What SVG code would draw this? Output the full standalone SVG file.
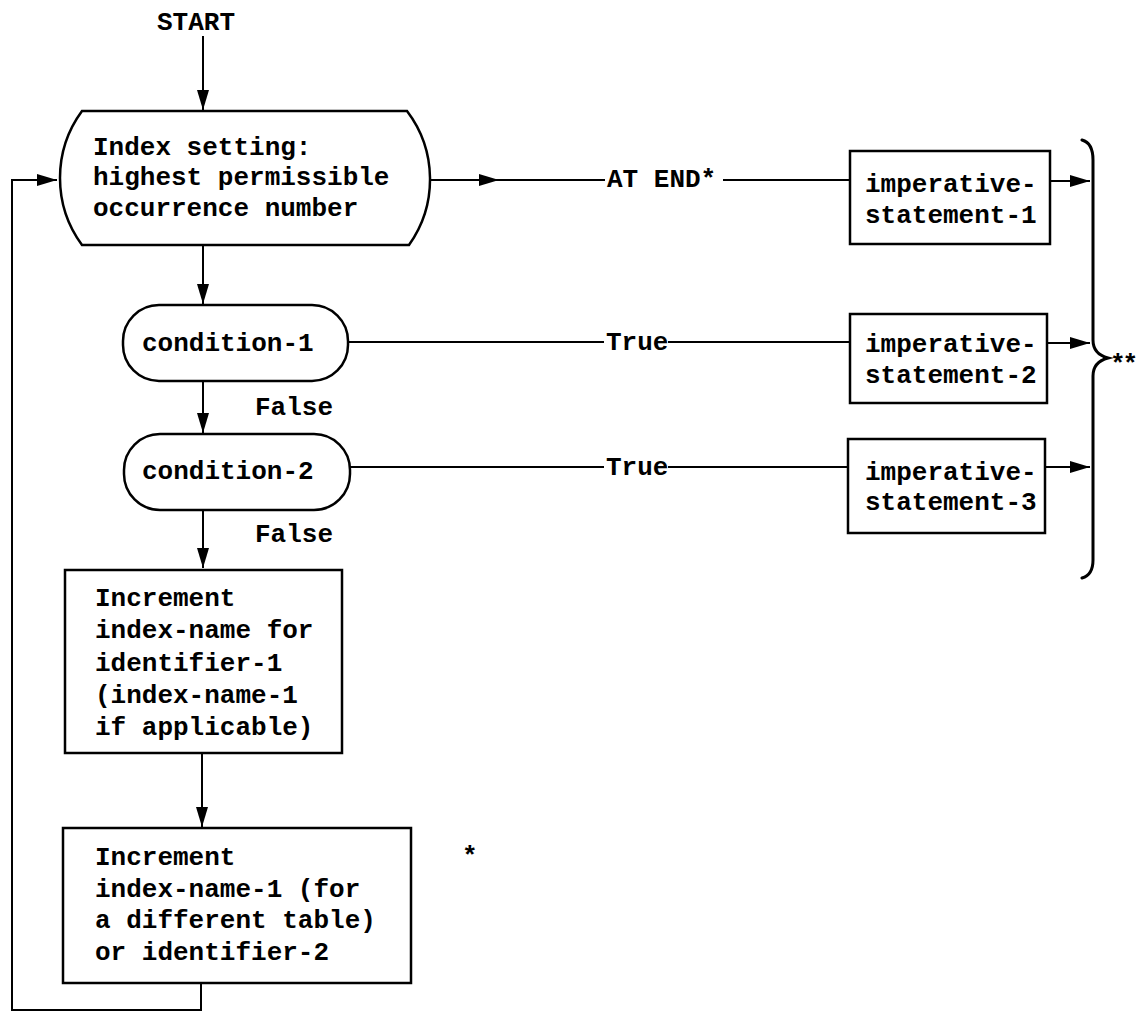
<svg xmlns="http://www.w3.org/2000/svg" width="1147" height="1013" viewBox="0 0 1147 1013">
<style>
  .t { font-family: "Liberation Mono", "Courier New", monospace; font-size: 26px; font-weight: bold; fill: #000; }
  .shape { fill: #fff; stroke: #000; stroke-width: 2.5; }
  .ln { fill: none; stroke: #000; stroke-width: 2; }
  .brace { fill: none; stroke: #000; stroke-width: 3; stroke-linecap: round; }
</style>
<defs>
  <marker id="arr" markerUnits="userSpaceOnUse" markerWidth="22" markerHeight="14" refX="20" refY="6" orient="auto">
    <path d="M0,0 L20,6 L0,12 Z" fill="#000"/>
  </marker>
</defs>
<rect width="1147" height="1013" fill="#fff"/>

<g id="connectors">
  <line class="ln" x1="203" y1="36" x2="203" y2="110" marker-end="url(#arr)"/>
  <line class="ln" x1="430" y1="180" x2="499" y2="180" marker-end="url(#arr)"/>
  <line class="ln" x1="495" y1="180" x2="605" y2="180"/>
  <line class="ln" x1="723" y1="180" x2="850" y2="180"/>
  <line class="ln" x1="1050" y1="181" x2="1090" y2="181" marker-end="url(#arr)"/>
  <line class="ln" x1="203" y1="245" x2="203" y2="304" marker-end="url(#arr)"/>
  <line class="ln" x1="348" y1="342" x2="604" y2="342"/>
  <line class="ln" x1="668" y1="342" x2="850" y2="342"/>
  <line class="ln" x1="1047" y1="343" x2="1090" y2="343" marker-end="url(#arr)"/>
  <line class="ln" x1="203" y1="381" x2="203" y2="433" marker-end="url(#arr)"/>
  <line class="ln" x1="350" y1="467" x2="604" y2="467"/>
  <line class="ln" x1="668" y1="467" x2="848" y2="467"/>
  <line class="ln" x1="1045" y1="467" x2="1090" y2="467" marker-end="url(#arr)"/>
  <line class="ln" x1="203" y1="510" x2="203" y2="568" marker-end="url(#arr)"/>
  <line class="ln" x1="202" y1="753" x2="202" y2="827" marker-end="url(#arr)"/>
  <path class="ln" d="M201,983 L201,1010 L12,1010 L12,180 L57,180" marker-end="url(#arr)"/>
  <text class="t" x="607" y="187">AT END*</text>
  <text class="t" x="606" y="350">True</text>
  <text class="t" x="606" y="475">True</text>
  <text class="t" x="255" y="415">False</text>
  <text class="t" x="255" y="542">False</text>
</g>

<g id="start">
  <text class="t" x="157" y="30">START</text>
</g>

<g id="index-setting">
  <path class="shape" d="M82,111 L407,111 A113,113 0 0 1 409,245 L82,245 A113,113 0 0 1 82,111 Z"/>
  <text class="t" x="93" y="155">Index setting:</text>
  <text class="t" x="93" y="185">highest permissible</text>
  <text class="t" x="93" y="216">occurrence number</text>
</g>

<g id="condition-1">
  <rect class="shape" x="123" y="305" width="225" height="76" rx="36" ry="36"/>
  <text class="t" x="142" y="351">condition-1</text>
</g>

<g id="condition-2">
  <rect class="shape" x="124" y="434" width="226" height="76" rx="36" ry="36"/>
  <text class="t" x="142" y="479">condition-2</text>
</g>

<g id="imperative-1">
  <rect class="shape" x="850" y="151" width="200" height="93"/>
  <text class="t" x="865" y="192">imperative-</text>
  <text class="t" x="865" y="223">statement-1</text>
</g>

<g id="imperative-2">
  <rect class="shape" x="850" y="314" width="197" height="89"/>
  <text class="t" x="865" y="352">imperative-</text>
  <text class="t" x="865" y="383">statement-2</text>
</g>

<g id="imperative-3">
  <rect class="shape" x="848" y="439" width="197" height="94"/>
  <text class="t" x="865" y="480">imperative-</text>
  <text class="t" x="865" y="510">statement-3</text>
</g>

<g id="increment-1">
  <rect class="shape" x="65" y="570" width="277" height="183"/>
  <text class="t" x="95" y="606">Increment</text>
  <text class="t" x="95" y="638">index-name for</text>
  <text class="t" x="95" y="671">identifier-1</text>
  <text class="t" x="95" y="703">(index-name-1</text>
  <text class="t" x="95" y="735">if applicable)</text>
</g>

<g id="increment-2">
  <rect class="shape" x="63" y="828" width="348" height="155"/>
  <text class="t" x="95" y="865">Increment</text>
  <text class="t" x="95" y="897">index-name-1 (for</text>
  <text class="t" x="95" y="928">a different table)</text>
  <text class="t" x="95" y="960">or identifier-2</text>
</g>

<g id="brace">
  <path class="brace" d="M1082,140 Q1093,143 1093,160 L1093,340 Q1093,354 1108,358 Q1093,362 1093,376 L1093,560 Q1093,575 1082,578"/>
  <text class="t" x="1110" y="372" letter-spacing="-3">**</text>
</g>

<g id="footnote-star">
  <text class="t" x="462" y="864">*</text>
</g>
</svg>
